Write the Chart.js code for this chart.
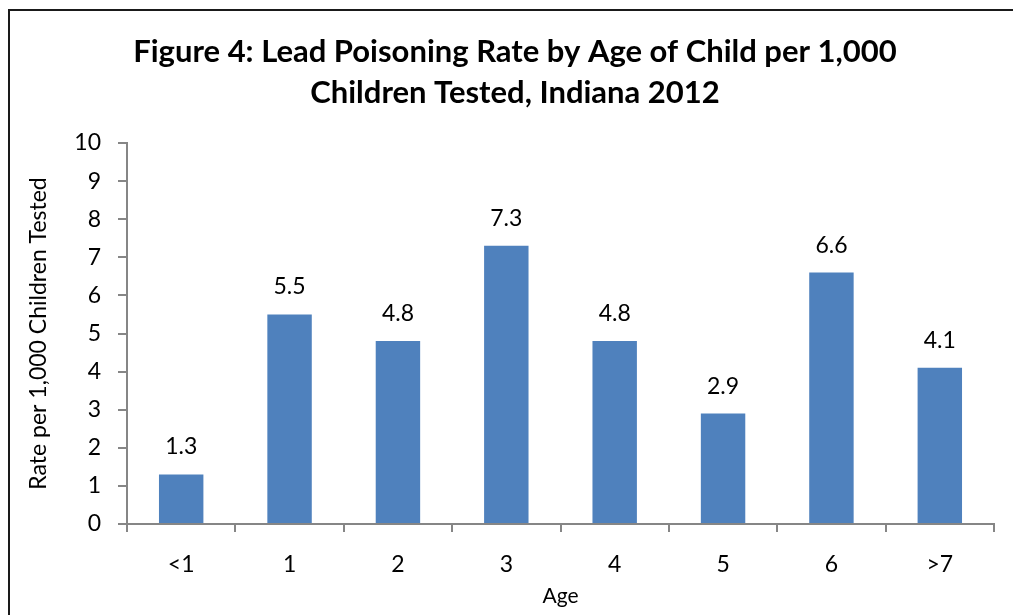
<!DOCTYPE html>
<html>
<head>
<meta charset="utf-8">
<script src="https://cdn.jsdelivr.net/npm/chart.js@4"></script>
<style>
  html, body { margin: 0; padding: 0; background: #fff; }
  #wrap { position: relative; width: 1013px; height: 615px; overflow: hidden; }
  #frame { position: absolute; left: 8px; top: 9px; width: 1100px; height: 700px;
           border: 2px solid #1a1a1a; box-sizing: border-box; pointer-events: none; }
</style>
</head>
<body>
<div id="wrap">
  <canvas id="chart" width="1013" height="615"></canvas>
  <div id="frame"></div>
</div>
<script>
const ageLabels = ["<1", "1", "2", "3", "4", "5", "6", ">7"];
const rates = [1.3, 5.5, 4.8, 7.3, 4.8, 2.9, 6.6, 4.1];
const yTicks = [0, 1, 2, 3, 4, 5, 6, 7, 8, 9, 10];
const titleLines = ["Figure 4: Lead Poisoning Rate by Age of Child per 1,000", "Children Tested, Indiana 2012"];

const fontFamily = "Lato, 'Open Sans', sans-serif";
const axisGray = "#868686";

// title is drawn by hand so it can sit centred on the frame, not the plot
const chartTitle = {
  id: "chartTitle",
  afterDraw(chart) {
    const ctx = chart.ctx;
    ctx.save();
    ctx.font = "bold 31px " + fontFamily;
    ctx.fillStyle = "#000";
    ctx.textAlign = "center";
    ctx.textBaseline = "alphabetic";
    ctx.fillText(titleLines[0], 515, 62);
    ctx.fillText(titleLines[1], 515, 103);
    ctx.restore();
  }
};

// draws value labels above each bar
const valueLabels = {
  id: "valueLabels",
  afterDatasetsDraw(chart) {
    const ctx = chart.ctx;
    const meta = chart.getDatasetMeta(0);
    ctx.save();
    ctx.font = "23px " + fontFamily;
    ctx.fillStyle = "#000";
    ctx.textAlign = "center";
    ctx.textBaseline = "alphabetic";
    meta.data.forEach((bar, i) => {
      ctx.fillText(rates[i].toFixed(1), bar.x, bar.y - 20);
    });
    ctx.restore();
  }
};

new Chart(document.getElementById("chart").getContext("2d"), {
  type: "bar",
  data: {
    labels: ageLabels,
    datasets: [{
      data: rates,
      backgroundColor: "#4F81BD",
      barPercentage: 0.41,
      categoryPercentage: 1.0
    }]
  },
  options: {
    responsive: false,
    animation: false,
    layout: { padding: { left: 0, right: 19, top: 143, bottom: 0 } },
    plugins: {
      legend: { display: false },
      tooltip: { enabled: false },
      title: { display: false }
    },
    scales: {
      x: {
        grid: { display: true, drawOnChartArea: false, color: axisGray, lineWidth: 2, tickLength: 8, offset: true },
        border: { color: axisGray, width: 2 },
        ticks: { color: "#000", font: { family: fontFamily, size: 23 }, padding: 19 },
        title: { display: true, text: "Age", color: "#000", font: { family: fontFamily, size: 21 }, padding: { top: 4, bottom: 6 } },
        afterFit(scale) { scale.height = 91; }
      },
      y: {
        min: 0,
        max: 10,
        afterBuildTicks(scale) { scale.ticks = yTicks.map(v => ({ value: v })); },
        grid: { display: true, drawOnChartArea: false, color: axisGray, lineWidth: 2, tickLength: 9 },
        border: { color: axisGray, width: 2 },
        ticks: { color: "#000", font: { family: fontFamily, size: 23 }, padding: 17 },
        title: { display: true, text: "Rate per 1,000 Children Tested", color: "#000", font: { family: fontFamily, size: 23 }, padding: { top: 25, bottom: 6 } },
        afterFit(scale) { scale.width = 127; }
      }
    }
  },
  plugins: [valueLabels, chartTitle]
});
</script>
</body>
</html>
